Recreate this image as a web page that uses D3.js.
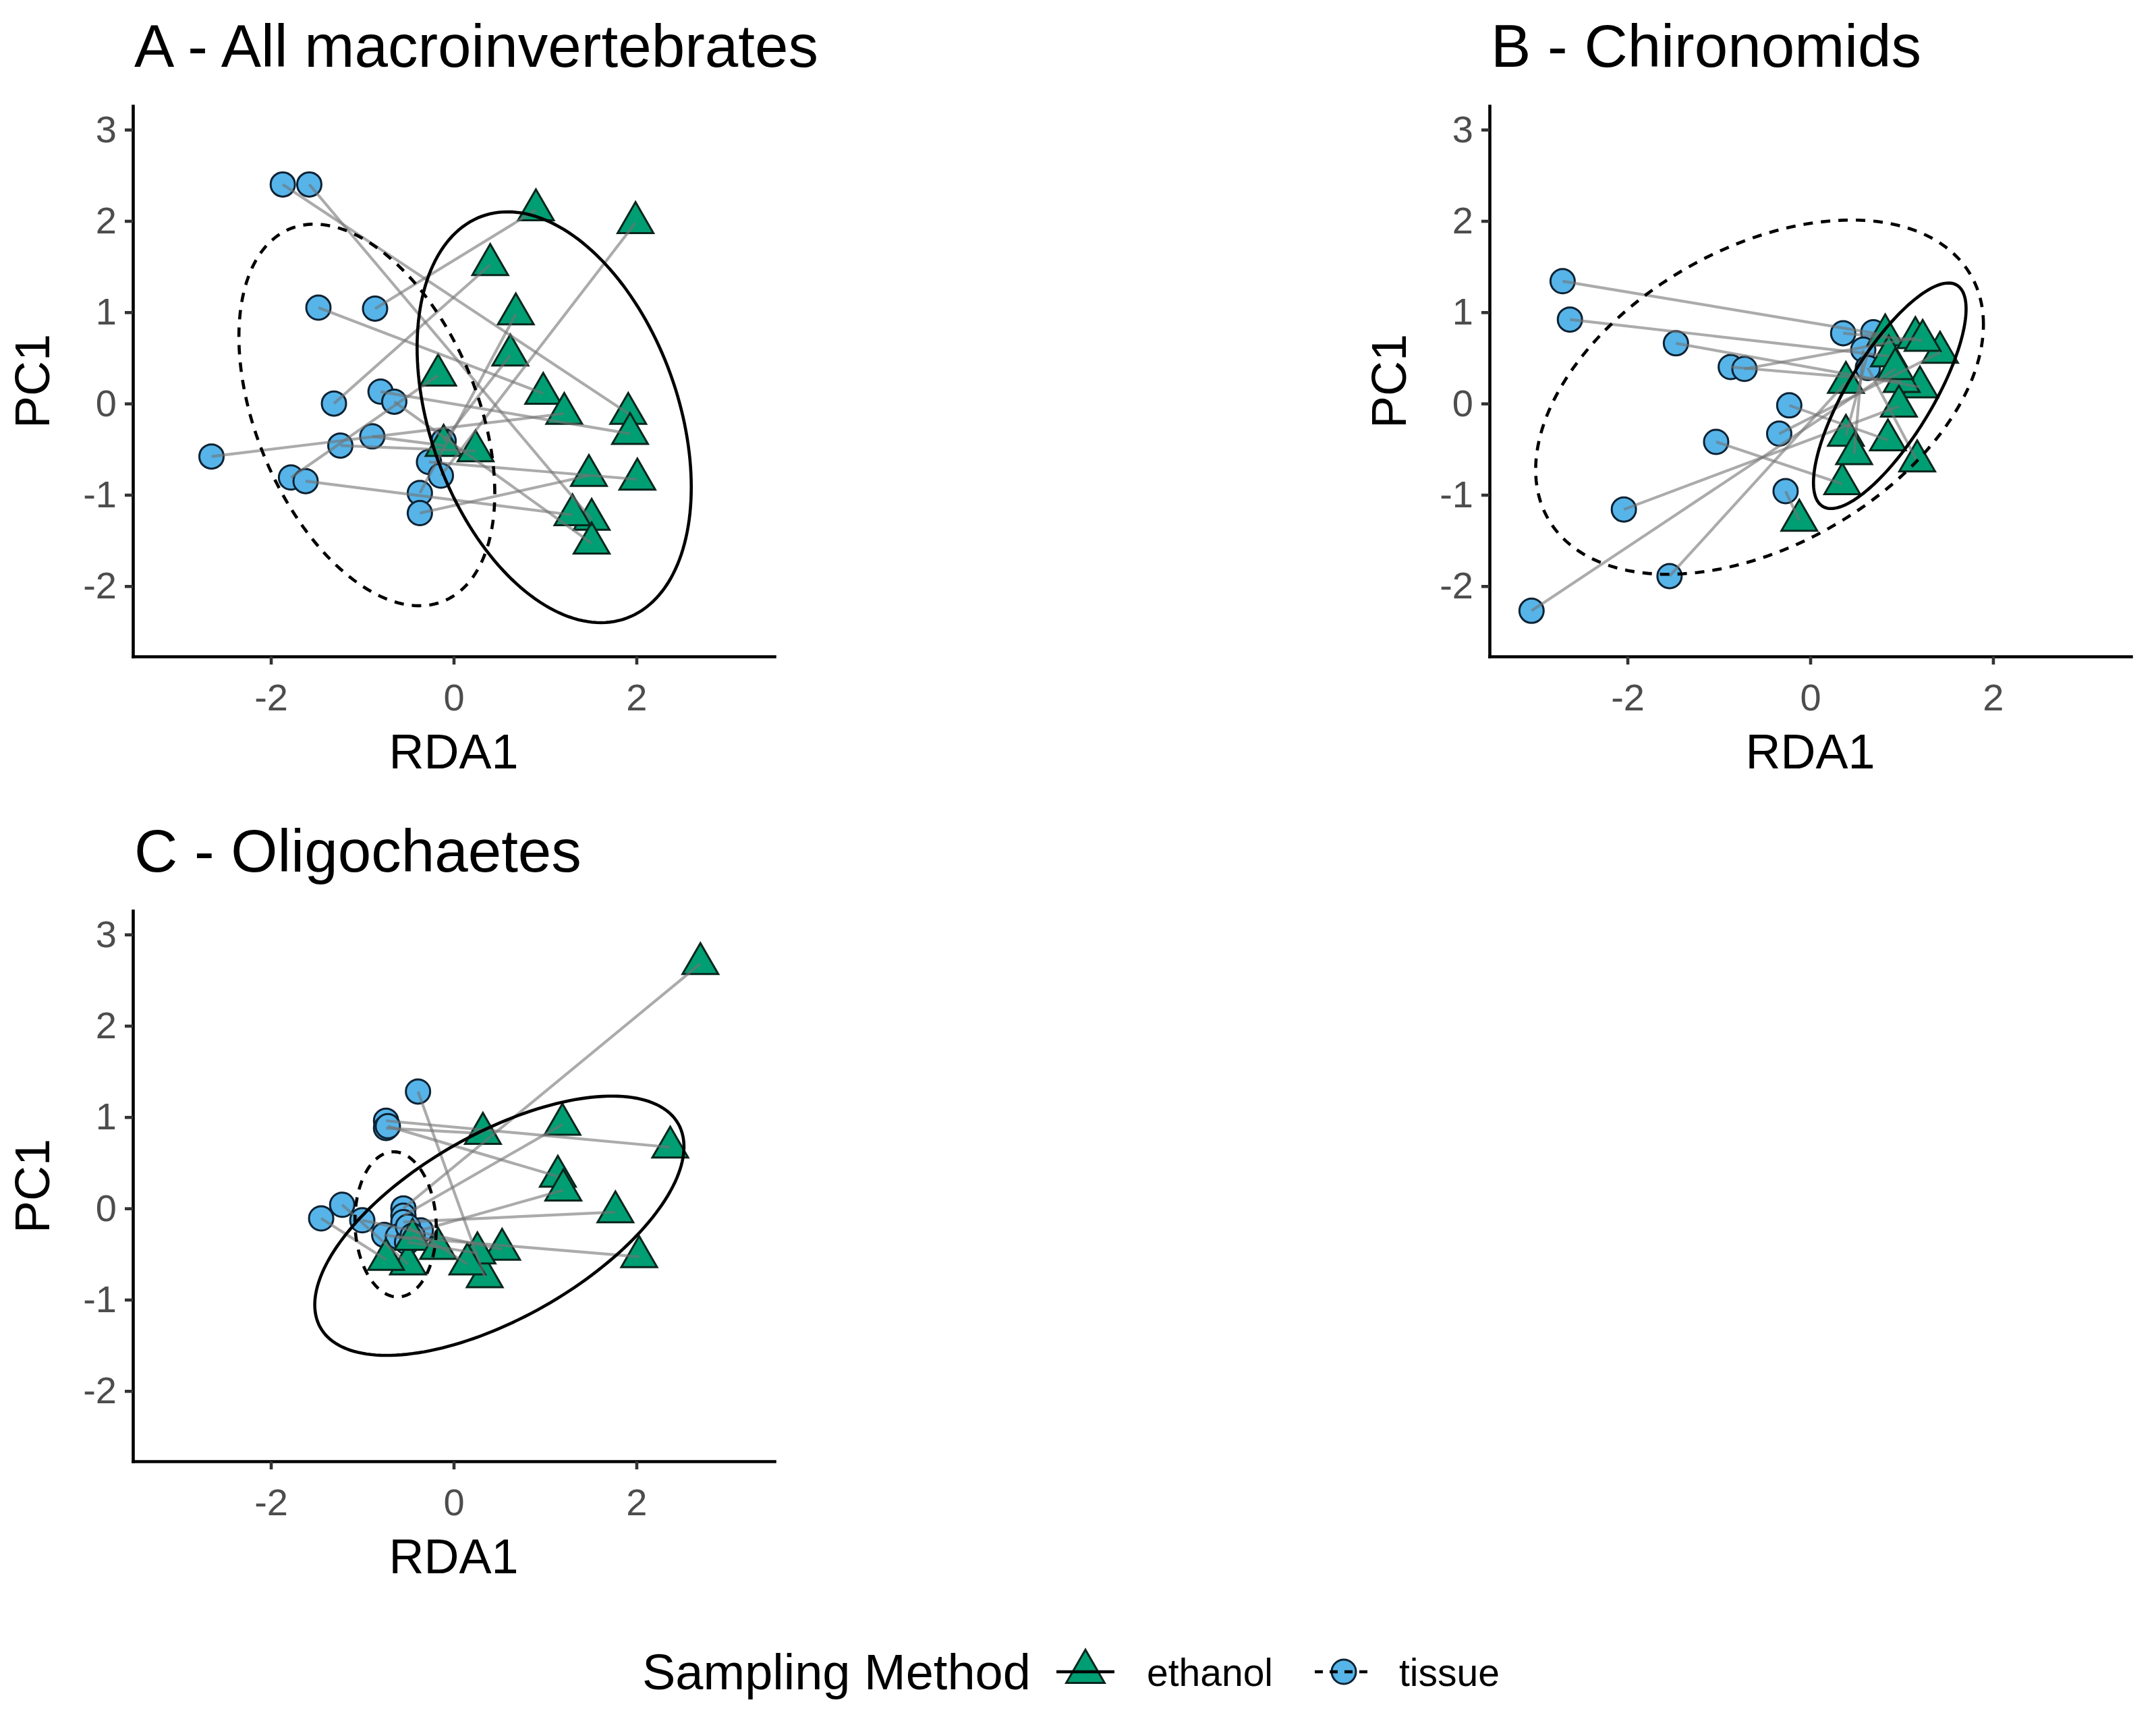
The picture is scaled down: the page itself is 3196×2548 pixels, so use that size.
<!DOCTYPE html>
<html>
<head>
<meta charset="utf-8">
<script src="https://cdn.jsdelivr.net/npm/d3@7"></script>
<style>
body { margin: 0; background: #fff; }
text { font-family: "Liberation Sans", Arial, sans-serif; }
</style>
</head>
<body>
<svg width="3196" height="2548"></svg>
<script>
// ---- data (tissue[i] is paired with ethanol[i]) ----
// A - All macroinvertebrates
const aTissueX  = [-1.87, -1.58, -1.48, -0.86, -1.31, -0.80, -0.65, -0.89, -1.24, -2.65, -1.78, -1.62, -0.27, -0.14, -0.37, -0.37, -0.11];
const aTissueY  = [ 2.40,  2.40,  1.05,  1.04,  0.00,  0.13,  0.02, -0.36, -0.46, -0.58, -0.81, -0.85, -0.64, -0.79, -0.98, -1.20, -0.41];
const aEthanolX = [ 1.91,  1.51,  0.98,  0.90,  0.40,  1.93,  1.51, -0.11,  0.24,  1.21, -0.17,  1.30,  2.01,  1.99,  0.68,  1.48,  0.62];
const aEthanolY = [-0.11, -1.27,  0.11,  2.12,  1.52, -0.33, -1.53, -0.46, -0.52, -0.11,  0.31, -1.22, -0.83,  1.98,  0.98, -0.79,  0.53];

// B - Chironomids
const bTissueX  = [-2.71, -2.63, -1.47, -0.87, -0.72, -0.23, -0.34, -1.03, -2.04, -0.27, -1.54, -3.05, 0.36, 0.69, 0.58, 0.63];
const bTissueY  = [ 1.34,  0.92,  0.66,  0.40,  0.38, -0.02, -0.33, -0.42, -1.16, -0.96, -1.89, -2.27, 0.77, 0.78, 0.59, 0.39];
const bEthanolX = [ 0.82,  0.86,  1.20,  1.00,  1.15,  0.85,  1.42,  0.35,  0.97, -0.12,  0.39,  0.93, 1.23, 0.39, 0.48, 1.17];
const bEthanolY = [ 0.75,  0.52,  0.18,  0.24,  0.72, -0.40,  0.56, -0.88, -0.03, -1.28,  0.23,  0.38, 0.69, -0.35, -0.55, -0.63];

// C - Oligochaetes
const cTissueX  = [-0.39, -0.74, -0.74, -0.72, -1.22, -1.45, -1.00, -0.55, -0.55, -0.55, -0.36, -0.76, -0.61, -0.51, -0.50, -0.45];
const cTissueY  = [ 1.28,  0.96,  0.88,  0.90,  0.04, -0.11, -0.13,  0.00, -0.08, -0.15, -0.24, -0.29, -0.31, -0.37, -0.20, -0.30];
const cEthanolX = [ 0.34,  2.37,  0.32,  1.14, -0.50, -0.74,  0.53,  2.70,  1.19,  1.77,  1.20, -0.45,  2.03,  0.26,  0.15, -0.17];
const cEthanolY = [-0.75,  0.67,  0.82,  0.35, -0.61, -0.56, -0.45,  2.68,  0.92, -0.04,  0.20, -0.34, -0.53, -0.49, -0.61, -0.44];

// 95% ellipses: centre x, centre y, sd x, sd y, correlation
const aEllEthanol = [ 1.10, -0.15, 1.50, 2.25, -0.34];
const aEllTissue  = [-0.95, -0.125, 1.40, 2.09, -0.41];
const bEllEthanol = [ 0.87,  0.085, 0.835, 1.235, 0.77];
const bEllTissue  = [-0.555, 0.07, 2.45, 1.94, 0.41];
const cEllEthanol = [ 0.50, -0.19, 2.02, 1.42, 0.61];
const cEllTissue  = [-0.635, -0.175, 0.445, 0.795, -0.05];

const xTicks = [-2, 0, 2];
const yTicks = [-2, -1, 0, 1, 2, 3];
const xDomain = [-3.51, 3.51];
const yDomain = [-2.77, 3.26];
const methods = ["ethanol", "tissue"];
const legendTitle = "Sampling Method";

// ---- drawing ----
const svg = d3.select("svg");
const pw = 951, ph = 816;
const colEthanol = "#009E73", colTissue = "#56B4E9";
const triSide = 53, triArea = triSide * triSide * Math.sqrt(3) / 4;
const circR = 18;
const lw = 4.6;

const panels = [
    {title: "A - All macroinvertebrates", left: 197, top: 157,
     tx: aTissueX, ty: aTissueY, ex: aEthanolX, ey: aEthanolY, ellE: aEllEthanol, ellT: aEllTissue},
    {title: "B - Chironomids", left: 2208, top: 157,
     tx: bTissueX, ty: bTissueY, ex: bEthanolX, ey: bEthanolY, ellE: bEllEthanol, ellT: bEllTissue},
    {title: "C - Oligochaetes", left: 197, top: 1350,
     tx: cTissueX, ty: cTissueY, ex: cEthanolX, ey: cEthanolY, ellE: cEllEthanol, ellT: cEllTissue}
];

function ellipsePoints(e) {
    let [cx, cy, sx, sy, r] = e;
    return d3.range(0, 361, 2).map(a => {
        let t = a * Math.PI / 180;
        return [cx + sx * Math.cos(t), cy + sy * (r * Math.cos(t) + Math.sqrt(1 - r * r) * Math.sin(t))];
    });
}

panels.forEach(p => {
    let x = d3.scaleLinear().domain(xDomain).range([0, pw]);
    let y = d3.scaleLinear().domain(yDomain).range([ph, 0]);
    let g = svg.append("g").attr("transform", `translate(${p.left},${p.top})`);
    let idx = d3.range(p.tx.length);

    // points
    g.selectAll(".tissue")
        .data(idx)
        .join("circle")
        .attr("class", "tissue")
        .attr("cx", i => x(p.tx[i]))
        .attr("cy", i => y(p.ty[i]))
        .attr("r", circR)
        .attr("fill", colTissue)
        .attr("stroke", "#0d2233")
        .attr("stroke-width", 3);

    g.selectAll(".ethanol")
        .data(idx)
        .join("path")
        .attr("class", "ethanol")
        .attr("d", d3.symbol(d3.symbolTriangle, triArea))
        .attr("transform", i => `translate(${x(p.ex[i])},${y(p.ey[i])})`)
        .attr("fill", colEthanol)
        .attr("stroke", "#0a261c")
        .attr("stroke-width", 3);

    // pair lines
    g.selectAll(".pair")
        .data(idx)
        .join("line")
        .attr("class", "pair")
        .attr("x1", i => x(p.tx[i]))
        .attr("y1", i => y(p.ty[i]))
        .attr("x2", i => x(p.ex[i]))
        .attr("y2", i => y(p.ey[i]))
        .attr("stroke", "#737373")
        .attr("stroke-opacity", 0.6)
        .attr("stroke-width", 4.2);

    // ellipses
    let line = d3.line().x(d => x(d[0])).y(d => y(d[1])).curve(d3.curveLinearClosed);
    g.append("path")
        .attr("d", line(ellipsePoints(p.ellE)))
        .attr("fill", "none")
        .attr("stroke", "#000")
        .attr("stroke-width", lw);
    g.append("path")
        .attr("d", line(ellipsePoints(p.ellT)))
        .attr("fill", "none")
        .attr("stroke", "#000")
        .attr("stroke-width", lw)
        .attr("stroke-dasharray", "14,12");

    // axes
    let ax = g.append("g")
        .attr("transform", `translate(0,${ph})`)
        .call(d3.axisBottom(x).tickValues(xTicks).tickSize(12).tickPadding(28).tickSizeOuter(0));
    let ay = g.append("g")
        .call(d3.axisLeft(y).tickValues(yTicks).tickSize(12).tickPadding(12).tickSizeOuter(0));
    [ax, ay].forEach(a => {
        a.select(".domain").attr("stroke", "#000").attr("stroke-width", lw).attr("stroke-linecap", "square");
        a.selectAll(".tick line").attr("stroke", "#333").attr("stroke-width", lw);
        a.selectAll(".tick text")
            .attr("fill", "#4d4d4d")
            .style("font-size", "56px")
            .style("font-family", "'Liberation Sans', Arial, sans-serif")
            .text(d => d < 0 ? "-" + Math.abs(d) : d);
    });

    // titles
    g.append("text")
        .attr("x", 2)
        .attr("y", -58)
        .style("font-size", "89px")
        .attr("fill", "#000")
        .text(p.title);
    g.append("text")
        .attr("x", pw / 2)
        .attr("y", ph + 166)
        .attr("text-anchor", "middle")
        .style("font-size", "72px")
        .text("RDA1");
    g.append("text")
        .attr("transform", `translate(-124,${ph / 2}) rotate(-90)`)
        .attr("text-anchor", "middle")
        .style("font-size", "72px")
        .text("PC1");
});

// legend
let leg = svg.append("g").attr("transform", "translate(0,2478)");
leg.append("text")
    .attr("x", 952)
    .attr("y", 26)
    .style("font-size", "74px")
    .text(legendTitle);

let keyX = [1609, 1992];
let labX = [1700, 2074];
methods.forEach((m, i) => {
    if (m == "ethanol") {
        leg.append("path")
            .attr("d", d3.symbol(d3.symbolTriangle, triArea * 1.15))
            .attr("transform", `translate(${keyX[i]},0)`)
            .attr("fill", colEthanol)
            .attr("stroke", "#0a261c")
            .attr("stroke-width", 3);
    } else {
        leg.append("circle")
            .attr("cx", keyX[i]).attr("cy", 0)
            .attr("r", circR)
            .attr("fill", colTissue)
            .attr("stroke", "#0d2233")
            .attr("stroke-width", 3);
    }
    // the key line sits over the symbol, as in ggplot keys
    leg.append("line")
        .attr("x1", keyX[i] - 43).attr("x2", keyX[i] + 43)
        .attr("y1", 0).attr("y2", 0)
        .attr("stroke", "#000")
        .attr("stroke-width", lw)
        .attr("stroke-dasharray", m == "tissue" ? "12,10" : null);
    leg.append("text")
        .attr("x", labX[i])
        .attr("y", 21)
        .style("font-size", "57px")
        .text(m);
});
</script>
</body>
</html>
